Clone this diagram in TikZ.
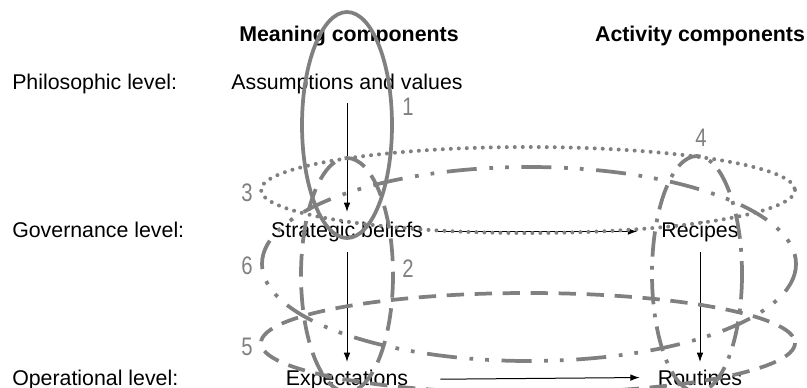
\documentclass[tikz,border=0pt]{standalone}
\usepackage{fontspec}
\setmainfont{Liberation Sans}
\newfontfamily\numfont[FakeStretch=0.8]{Liberation Sans}
\usetikzlibrary{arrows.meta,positioning}

\definecolor{ringgray}{RGB}{128,128,128}

\begin{document}
\begin{tikzpicture}[
    x=0.75pt, y=-0.75pt,
    txt/.style={inner sep=0pt, font=\fontsize{16}{18}\selectfont},
    head/.style={txt, font=\fontsize{16}{18}\selectfont\bfseries},
    num/.style={inner sep=0pt, text=ringgray, font=\fontsize{19}{21}\selectfont\numfont},
    arrow/.style={-{Latex[length=7pt,width=5pt]}, line width=0.75pt},
    ring/.style={draw=ringgray, line width=2.8pt}
]
\useasboundingbox (0,0) rectangle (807,387);

% Headings
\node[head, anchor=base] (meaning) at (349,41) {Meaning components};
\node[head, anchor=base] (activity) at (700,41) {Activity components};

% Level labels
\node[txt, anchor=base west] (philo) at (12,89) {Philosophic level:};
\node[txt, anchor=base west] (gov) at (12,237) {Governance level:};
\node[txt, anchor=base west] (oper) at (12,385) {Operational level:};

% Components
\node[txt, anchor=base] (assump) at (347,89) {Assumptions and values};
\node[txt, anchor=base] (strat) at (347,237) {Strategic beliefs};
\node[txt, anchor=base] (expect) at (347,385) {Expectations};
\node[txt, anchor=base] (recip) at (700,237) {Recipes};
\node[txt, anchor=base] (routin) at (700,385) {Routines};

% Arrows
\draw[arrow, shorten <=7pt, shorten >=7pt] (assump.south) -- (strat.north);
\draw[arrow, shorten <=8pt, shorten >=5.5pt] (strat.south) -- (expect.north);
\draw[arrow, shorten <=8pt, shorten >=5.5pt] (recip.south) -- (routin.north);
\draw[arrow, shorten <=11pt, shorten >=18pt] (strat.east) -- (recip.west);
\draw[arrow, shorten <=24pt, shorten >=13.5pt] (expect.east) -- (routin.west);

% Rings
\draw[ring] (347,125) ellipse [x radius=45, y radius=113];
\draw[ring, dash pattern=on 17pt off 8pt] (347,275) ellipse [x radius=46, y radius=117];
\draw[ring, line width=3pt, line cap=round, dash pattern=on 0pt off 6pt] (528,190) ellipse [x radius=267, y radius=43];
\draw[ring, dash pattern=on 19pt off 7pt on 2.8pt off 7pt] (697,274) ellipse [x radius=45, y radius=118];
\draw[ring, dash pattern=on 13pt off 8pt] (528,343) ellipse [x radius=267, y radius=50];
\draw[ring, dash pattern=on 22.5pt off 9.5pt on 2.8pt off 9pt on 2.8pt off 9.5pt] (529,264) ellipse [x radius=267, y radius=97];

% Ring numbers
\node[num] (n1) at (408,107) {1};
\node[num] (n2) at (408,269) {2};
\node[num] (n3) at (247,193) {3};
\node[num] (n4) at (701,138) {4};
\node[num] (n5) at (247,347) {5};
\node[num] (n6) at (247,266) {6};

\end{tikzpicture}
\end{document}
